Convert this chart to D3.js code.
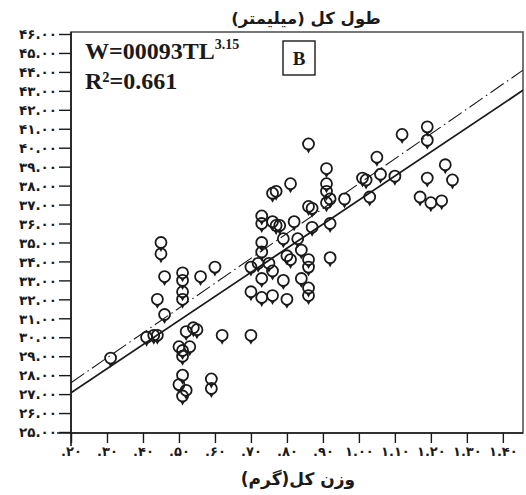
<!DOCTYPE html>
<html><head><meta charset="utf-8">
<script src="https://cdn.jsdelivr.net/npm/d3@7/dist/d3.min.js"></script>
<style>
html,body{margin:0;padding:0;background:#fff;}
svg{display:block;}
</style></head>
<body><svg id="c" width="526" height="495"></svg>
<script>
// ---- data ----
const weightG = [0.31,0.41,0.43,0.44,0.45,0.45,0.46,0.44,0.46,0.51,0.51,0.51,0.51,0.56,0.60,0.52,0.54,0.55,0.50,0.51,0.53,0.51,0.51,0.50,0.52,0.51,0.59,0.59,0.62,0.70,
0.81,0.76,0.77,0.86,0.91,0.91,0.91,0.92,0.91,0.96,0.86,0.87,0.73,0.73,0.76,0.77,0.82,0.87,0.92,0.73,0.78,0.79,0.73,0.83,0.84,0.80,0.81,0.70,0.72,0.75,
0.86,0.86,0.92,0.76,0.73,0.79,0.84,0.86,0.70,0.73,0.76,0.80,0.86,
1.12,1.19,1.19,1.05,1.01,1.02,1.06,1.10,1.24,1.19,1.26,1.03,1.17,1.20,1.23];
const lengthMm = [28.9,30.0,30.1,30.1,35.0,34.4,33.2,32.0,31.2,33.4,33.0,32.4,32.0,33.2,33.7,30.3,30.5,30.4,29.5,29.3,29.5,29.0,28.0,27.5,27.2,26.9,27.8,27.3,30.1,30.1,
38.1,37.6,37.7,40.2,38.9,38.1,37.7,37.3,37.1,37.3,36.9,36.8,36.4,36.0,36.1,35.9,36.1,35.8,36.0,35.0,35.9,35.2,34.5,35.2,34.6,34.3,34.1,33.7,33.9,33.9,
34.1,33.7,34.2,33.5,33.1,33.0,33.1,32.6,32.4,32.1,32.2,32.0,32.2,
40.7,41.1,40.4,39.5,38.4,38.3,38.6,38.5,39.1,38.4,38.3,37.4,37.4,37.1,37.2];
const fitX = [0.2, 1.456];
const fitSolid = [27.07, 43.03];
const fitDashDot = [27.6, 44.09];
const yTickValues = d3.range(25, 47, 1);
const yTickLabels = ["۲۵.۰۰","۲۶.۰۰","۲۷.۰۰","۲۸.۰۰","۲۹.۰۰","۳۰.۰۰","۳۱.۰۰","۳۲.۰۰","۳۳.۰۰","۳۴.۰۰","۳۵.۰۰","۳۶.۰۰","۳۷.۰۰","۳۸.۰۰","۳۹.۰۰","۴۰.۰۰","۴۱.۰۰","۴۲.۰۰","۴۳.۰۰","۴۴.۰۰","۴۵.۰۰","۴۶.۰۰"];
const xTickValues = [0.2,0.3,0.4,0.5,0.6,0.7,0.8,0.9,1.0,1.1,1.2,1.3,1.4];
const xTickLabels = [".۲۰",".۳۰",".۴۰",".۵۰",".۶۰",".۷۰",".۸۰",".۹۰","۱.۰۰","۱.۱۰","۱.۲۰","۱.۳۰","۱.۴۰"];
const titleText = "طول کل (میلیمتر)";
const xTitleText = "وزن کل(گرم)";
const eqMain = "W=00093TL";
const eqExp = "3.15";
const r2Text = "R²=0.661";
const panelLabel = "B";

// ---- layout ----
const svg = d3.select("#c");
const L = 71, R = 523, T = 32, B = 433;
const x = d3.scaleLinear().domain([0.2, 1.456]).range([L, R]);
const y = d3.scaleLinear().domain([25, 46]).range([432, 34]);
const ink = "#1a1a1a";

// frame
svg.append("rect").attr("x", L).attr("y", T).attr("width", R - L).attr("height", B - T)
  .attr("fill", "none").attr("stroke", "#555").attr("stroke-width", 1.6);

// y axis
const yAxis = d3.axisLeft(y).tickValues(yTickValues).tickSize(12).tickPadding(2)
  .tickFormat((d, i) => yTickLabels[i]);
const gy = svg.append("g").attr("transform", `translate(${L},0)`).call(yAxis);
gy.select(".domain").attr("d", `M0,${T}V446`).attr("stroke", ink).attr("stroke-width", 1.6);
gy.selectAll(".tick line").attr("stroke", ink).attr("stroke-width", 1.4);
gy.selectAll(".tick text").attr("font-family", "DejaVu Sans").attr("font-weight", "bold")
  .attr("font-size", 13.5).attr("fill", ink).attr("dy", "0.35em");

// x axis
const xAxis = d3.axisBottom(x).tickValues(xTickValues).tickSize(10).tickPadding(4)
  .tickFormat((d, i) => xTickLabels[i]);
const gx = svg.append("g").attr("transform", `translate(0,${B})`).call(xAxis);
gx.select(".domain").attr("d", `M${L - 14},0H${R}`).attr("stroke", ink).attr("stroke-width", 1.6);
gx.selectAll(".tick line").attr("stroke", ink).attr("stroke-width", 1.4);
gx.selectAll(".tick text").attr("font-family", "DejaVu Sans").attr("font-weight", "bold")
  .attr("font-size", 13).attr("fill", ink);

// clip
svg.append("clipPath").attr("id", "clip").append("rect")
  .attr("x", L).attr("y", T).attr("width", R - L).attr("height", B - T);

const line = d3.line().x(d => x(d[0])).y(d => y(d[1]));
const plot = svg.append("g").attr("clip-path", "url(#clip)");
plot.append("path").datum(fitX.map((v, i) => [v, fitDashDot[i]])).attr("d", line)
  .attr("fill", "none").attr("stroke", ink).attr("stroke-width", 1.1)
  .attr("stroke-dasharray", "16,4,1.5,4");
plot.append("path").datum(fitX.map((v, i) => [v, fitSolid[i]])).attr("d", line)
  .attr("fill", "none").attr("stroke", ink).attr("stroke-width", 1.8);

// markers
const pts = weightG.map((w, i) => [w, lengthMm[i]]);
const mk = plot.selectAll("g.pt").data(pts).join("g").attr("class", "pt")
  .attr("transform", d => `translate(${x(d[0])},${y(d[1])})`);
mk.append("circle").attr("r", 5.5).attr("fill", "none").attr("stroke", ink).attr("stroke-width", 1.8);
mk.append("path").attr("d", "M-2.2,5.5 L2.2,5.5 L0,9.5 Z").attr("fill", ink);

// titles
svg.append("text").attr("x", 306).attr("y", 24).attr("text-anchor", "middle")
  .attr("direction", "rtl").attr("font-family", "DejaVu Sans").attr("font-weight", "bold")
  .attr("font-size", 16.5).attr("fill", ink).text(titleText);
svg.append("text").attr("x", 298).attr("y", 485).attr("text-anchor", "middle")
  .attr("direction", "rtl").attr("font-family", "DejaVu Sans").attr("font-weight", "bold")
  .attr("font-size", 17).attr("fill", ink).text(xTitleText);

// equation
const eq = svg.append("text").attr("x", 85).attr("y", 59)
  .attr("font-family", "Liberation Serif").attr("font-weight", "bold").attr("font-size", 24).attr("fill", ink);
eq.append("tspan").text(eqMain);
eq.append("tspan").attr("font-size", 14).attr("dy", -10).text(eqExp);
svg.append("text").attr("x", 85).attr("y", 89)
  .attr("font-family", "Liberation Serif").attr("font-weight", "bold").attr("font-size", 24).attr("fill", ink)
  .text(r2Text);

// panel label
svg.append("rect").attr("x", 283).attr("y", 41).attr("width", 32).attr("height", 34)
  .attr("fill", "none").attr("stroke", ink).attr("stroke-width", 1.4);
svg.append("text").attr("x", 299).attr("y", 65).attr("text-anchor", "middle")
  .attr("font-family", "Liberation Serif").attr("font-weight", "bold").attr("font-size", 19).attr("fill", ink)
  .text(panelLabel);
</script></body></html>
